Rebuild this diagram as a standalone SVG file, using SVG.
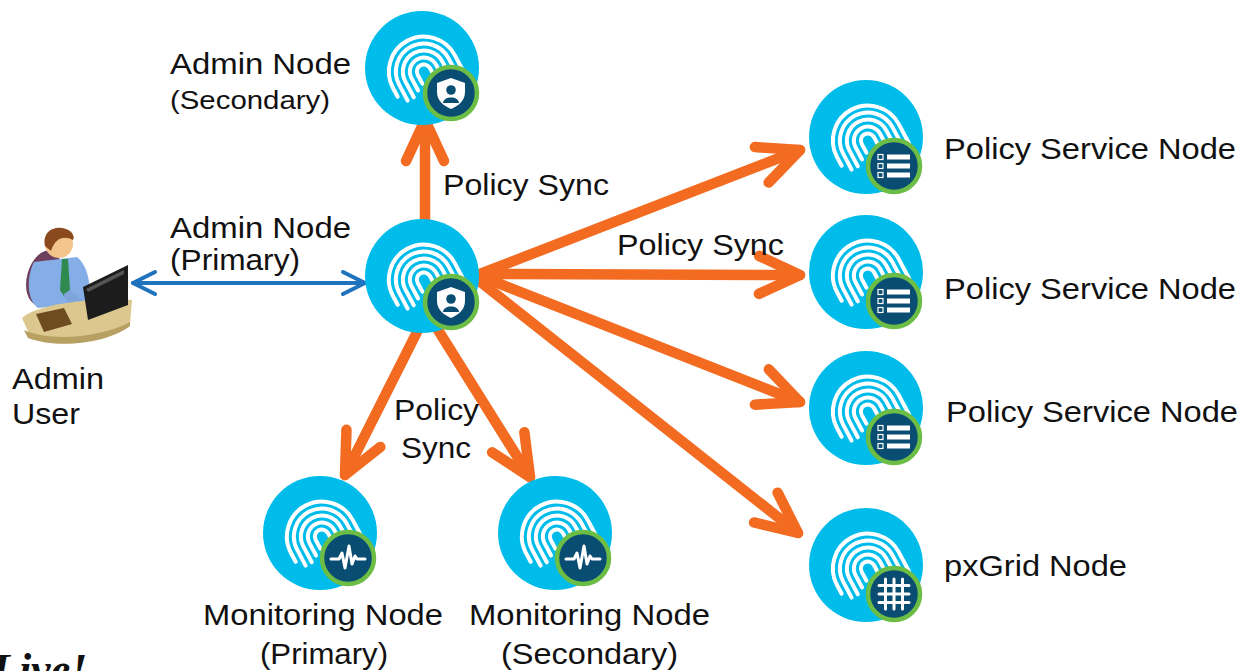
<svg xmlns="http://www.w3.org/2000/svg" width="1241" height="671" viewBox="0 0 1241 671">
  <defs>
    <style>
      .disc{fill:#00bceb}
      .ring{fill:#0a4d72;stroke:#6cbd45;stroke-width:4.5}
      .lbl{font-family:"Liberation Sans",Arial,sans-serif;font-size:30px;fill:#111}
      .sync{fill:none;stroke:#f36b21;stroke-width:10.5;stroke-linecap:round}
      .link{fill:none;stroke:#1f73bd;stroke-width:4;stroke-linecap:round}
    </style>

    <!-- open chevron heads -->
    <marker id="chev" markerUnits="userSpaceOnUse" orient="auto" overflow="visible"
            viewBox="-50 -30 60 60" markerWidth="60" markerHeight="60" refX="0" refY="0">
      <path d="M-41,-19 L0,0 L-41,19" fill="none" stroke="#f36b21" stroke-width="10.5"
            stroke-linecap="round" stroke-linejoin="round"/>
    </marker>
    <marker id="chev-blue" markerUnits="userSpaceOnUse" orient="auto-start-reverse" overflow="visible"
            viewBox="-30 -16 36 32" markerWidth="36" markerHeight="32" refX="0" refY="0">
      <path d="M-22,-11 L0,0 L-22,11" fill="none" stroke="#1f73bd" stroke-width="4"
            stroke-linecap="round" stroke-linejoin="round"/>
    </marker>

    <!-- fingerprint glyph, centred on the node disc -->
    <g id="fp" fill="none" stroke="#fff" stroke-width="4" stroke-linecap="round" transform="rotate(-28)">
      <path d="M-7,14 L-7,4 A7 7 0 0 1 7,4 L7,18"/>
      <path d="M-14,18 L-14,4 A14 14 0 0 1 14,4 L14,24"/>
      <path d="M-21,22 L-21,4 A21 21 0 0 1 21,4 L21,30"/>
      <path d="M-28,22 L-28,4 A28 28 0 0 1 28,4 L28,32"/>
      <path d="M-35,14 L-35,4 A35 35 0 0 1 35,4 L35,26"/>
    </g>

    <!-- badge icons -->
    <g id="ico-shield">
      <path d="M0,-15 L14,-10 L14,-1 C14,8 7,13 0,16 C-7,13 -14,8 -14,-1 L-14,-10 Z" fill="#fff"/>
      <circle cx="0" cy="-3" r="4.8" fill="#0a4d72"/>
      <path d="M-8,10 C-8,2.5 8,2.5 8,10 Z" fill="#0a4d72"/>
    </g>
    <g id="ico-list" fill="#fff">
      <rect x="-16" y="-11.5" width="5" height="5" fill="none" stroke="#fff" stroke-width="1.2"/>
      <rect x="-16" y="-2.5" width="5" height="5" fill="none" stroke="#fff" stroke-width="1.2"/>
      <rect x="-16" y="6.5" width="5" height="5" fill="none" stroke="#fff" stroke-width="1.2"/>
      <rect x="-7" y="-11.5" width="23" height="5"/>
      <rect x="-7" y="-2.5" width="23" height="5"/>
      <rect x="-7" y="6.5" width="23" height="5"/>
    </g>
    <g id="ico-pulse">
      <path d="M-17,1 L-9,1 L-6,-5 L-3,10 L1,-12 L4,6 L7,-2 L9,1 L17,1" fill="none" stroke="#fff"
            stroke-width="3" stroke-linejoin="round" stroke-linecap="round"/>
    </g>
    <g id="ico-grid" stroke="#fff" stroke-width="3" stroke-linecap="round">
      <path d="M-8.5,-15 V15 M0,-15 V15 M8.5,-15 V15 M-15,-8.5 H15 M-15,0 H15 M-15,8.5 H15"/>
    </g>
  </defs>

  <rect width="1241" height="671" fill="#fff"/>

  <!-- connectors -->
  <g id="connectors">
    <line class="link" x1="133" y1="283" x2="365" y2="283" marker-start="url(#chev-blue)" marker-end="url(#chev-blue)"/>
    <line class="sync" x1="425" y1="220" x2="425" y2="120" marker-end="url(#chev)"/>
    <line class="sync" x1="480" y1="274" x2="800" y2="150" marker-end="url(#chev)"/>
    <line class="sync" x1="480" y1="274" x2="800" y2="275" marker-end="url(#chev)"/>
    <line class="sync" x1="480" y1="276" x2="800" y2="402" marker-end="url(#chev)"/>
    <line class="sync" x1="478" y1="280" x2="798" y2="533" marker-end="url(#chev)"/>
    <line class="sync" x1="418" y1="330" x2="345" y2="475" marker-end="url(#chev)"/>
    <line class="sync" x1="438" y1="330" x2="530" y2="477" marker-end="url(#chev)"/>
    <text class="lbl" x="443" y="195" textLength="166" lengthAdjust="spacingAndGlyphs">Policy Sync</text>
    <text class="lbl" x="617" y="255" textLength="167" lengthAdjust="spacingAndGlyphs">Policy Sync</text>
    <text class="lbl" x="394" y="420" textLength="85" lengthAdjust="spacingAndGlyphs">Policy</text>
    <text class="lbl" x="401" y="458" textLength="70" lengthAdjust="spacingAndGlyphs">Sync</text>
  </g>

  <!-- admin user at the console -->
  <g id="admin-user">
    <ellipse cx="44" cy="278" rx="17" ry="28" fill="#6e3f5e" transform="rotate(15 44 278)"/>
    <path d="M34,262 C26,278 27,300 38,308 L88,303 C92,286 88,266 77,257 Z" fill="#86aee6"/>
    <path d="M62,259 L68,259 L70,290 L64,296 L60,290 Z" fill="#2f8a4e"/>
    <path d="M70,290 C78,296 84,302 86,306 L74,310 C68,304 64,298 64,294 Z" fill="#7fa4dc"/>
    <circle cx="59" cy="244" r="14" fill="#f3c48c"/>
    <path d="M45,246 C42,231 55,225 66,229 C73,231 75,238 73,240 C64,235 55,238 51,251 Z" fill="#8a4a1e"/>
    <path d="M22,318 C40,302 100,298 132,300 L130,324 C110,340 60,348 30,336 Z" fill="#dcc88e"/>
    <path d="M24,330 C50,342 100,338 130,322 L130,326 C110,342 60,350 28,338 Z" fill="#b89f62"/>
    <path d="M36,314 L64,308 L72,324 L44,332 Z" fill="#6e4b20"/>
    <path d="M83,287 L128,265 L128,305 L88,320 Z" fill="#1c1c1c"/>
    <path d="M86,289 L124,270 L124,274 L88,292 Z" fill="#555"/>
    <text class="lbl" x="12" y="389" textLength="92" lengthAdjust="spacingAndGlyphs">Admin</text>
    <text class="lbl" x="12" y="424" textLength="68" lengthAdjust="spacingAndGlyphs">User</text>
  </g>

  <!-- admin nodes -->
  <g id="admin-secondary">
    <g transform="translate(422,68)">
      <circle class="disc" r="57"/>
      <use href="#fp"/>
      <g transform="translate(29,25)"><circle class="ring" r="26"/><use href="#ico-shield"/></g>
    </g>
    <text class="lbl" x="170" y="74" textLength="181" lengthAdjust="spacingAndGlyphs">Admin Node</text>
    <text class="lbl" x="170" y="109" style="font-size:25px" textLength="160" lengthAdjust="spacingAndGlyphs">(Secondary)</text>
  </g>

  <g id="admin-primary">
    <g transform="translate(422,276)">
      <circle class="disc" r="57"/>
      <use href="#fp"/>
      <g transform="translate(29,26)"><circle class="ring" r="26"/><use href="#ico-shield"/></g>
    </g>
    <text class="lbl" x="170" y="238" textLength="181" lengthAdjust="spacingAndGlyphs">Admin Node</text>
    <text class="lbl" x="170" y="270" textLength="130" lengthAdjust="spacingAndGlyphs">(Primary)</text>
  </g>

  <!-- monitoring nodes -->
  <g id="monitoring-primary">
    <g transform="translate(320,533)">
      <circle class="disc" r="57"/>
      <use href="#fp"/>
      <g transform="translate(28,25)"><circle class="ring" r="26"/><use href="#ico-pulse"/></g>
    </g>
    <text class="lbl" x="203" y="625" textLength="240" lengthAdjust="spacingAndGlyphs">Monitoring Node</text>
    <text class="lbl" x="260" y="664" textLength="128" lengthAdjust="spacingAndGlyphs">(Primary)</text>
  </g>

  <g id="monitoring-secondary">
    <g transform="translate(555,533)">
      <circle class="disc" r="57"/>
      <use href="#fp"/>
      <g transform="translate(28,25)"><circle class="ring" r="26"/><use href="#ico-pulse"/></g>
    </g>
    <text class="lbl" x="469" y="625" textLength="241" lengthAdjust="spacingAndGlyphs">Monitoring Node</text>
    <text class="lbl" x="501" y="664" textLength="177" lengthAdjust="spacingAndGlyphs">(Secondary)</text>
  </g>

  <!-- policy service nodes -->
  <g id="psn-1">
    <g transform="translate(866,137)">
      <circle class="disc" r="57"/>
      <use href="#fp"/>
      <g transform="translate(28,29)"><circle class="ring" r="26"/><use href="#ico-list"/></g>
    </g>
    <text class="lbl" x="944" y="159" textLength="292" lengthAdjust="spacingAndGlyphs">Policy Service Node</text>
  </g>

  <g id="psn-2">
    <g transform="translate(866,272)">
      <circle class="disc" r="57"/>
      <use href="#fp"/>
      <g transform="translate(28,29)"><circle class="ring" r="26"/><use href="#ico-list"/></g>
    </g>
    <text class="lbl" x="944" y="299" textLength="292" lengthAdjust="spacingAndGlyphs">Policy Service Node</text>
  </g>

  <g id="psn-3">
    <g transform="translate(866,408)">
      <circle class="disc" r="57"/>
      <use href="#fp"/>
      <g transform="translate(28,29)"><circle class="ring" r="26"/><use href="#ico-list"/></g>
    </g>
    <text class="lbl" x="946" y="422" textLength="292" lengthAdjust="spacingAndGlyphs">Policy Service Node</text>
  </g>

  <!-- pxGrid node -->
  <g id="pxgrid">
    <g transform="translate(866,565)">
      <circle class="disc" r="57"/>
      <use href="#fp"/>
      <g transform="translate(28,29)"><circle class="ring" r="26"/><use href="#ico-grid"/></g>
    </g>
    <text class="lbl" x="944" y="576" textLength="183" lengthAdjust="spacingAndGlyphs">pxGrid Node</text>
  </g>

  <!-- event logo, cropped at the lower edge -->
  <text x="-8" y="684" font-family="'Liberation Serif',serif" font-style="italic" font-weight="bold" font-size="44" fill="#111">Live!</text>
</svg>
